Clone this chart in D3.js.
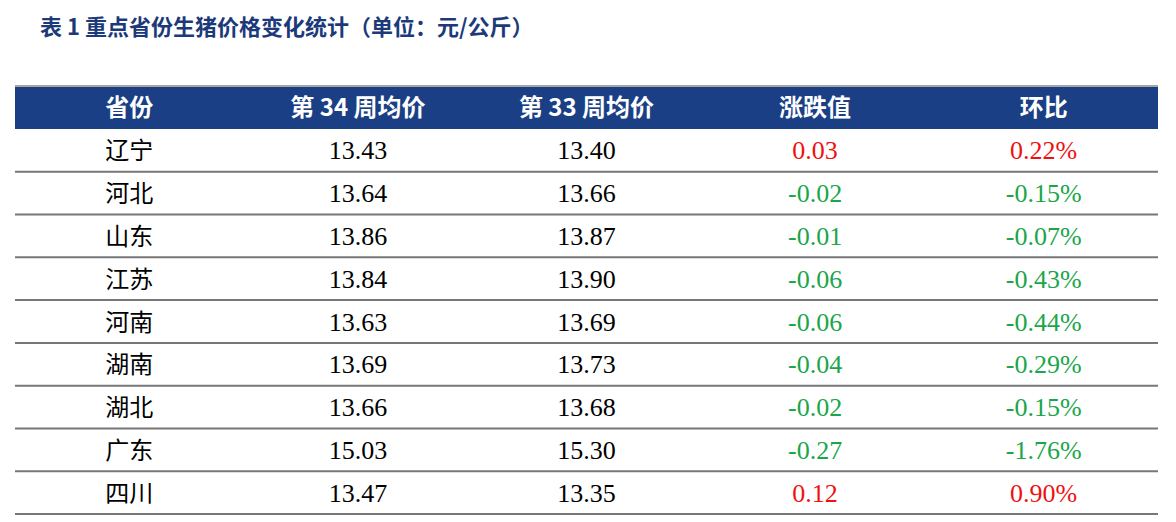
<!DOCTYPE html>
<html><head><meta charset="utf-8">
<script src="https://cdn.jsdelivr.net/npm/d3@7/dist/d3.min.js"></script>
<style>body{margin:0;background:#fff}</style>
</head><body>
<svg id="chart" width="1176" height="522"></svg>
<script>
const headers = ['省份', '第 34 周均价', '第 33 周均价', '涨跌值', '环比'];
const provinces = ['辽宁', '河北', '山东', '江苏', '河南', '湖南', '湖北', '广东', '四川'];
const week34 = ['13.43', '13.64', '13.86', '13.84', '13.63', '13.69', '13.66', '15.03', '13.47'];
const week33 = ['13.40', '13.66', '13.87', '13.90', '13.69', '13.73', '13.68', '15.30', '13.35'];
const change = ['0.03', '-0.02', '-0.01', '-0.06', '-0.06', '-0.04', '-0.02', '-0.27', '0.12'];
const ratio = ['0.22%', '-0.15%', '-0.07%', '-0.43%', '-0.44%', '-0.29%', '-0.15%', '-1.76%', '0.90%'];

const svg = d3.select('#chart');
const left = 15, right = 1158, headTop = 87, headBottom = 129, bottom = 514;
const cjk = '"Noto Sans CJK SC", sans-serif';
const serif = '"Liberation Serif", "Times New Roman", serif';

svg.append('text').attr('x', 40).attr('y', 35)
    .attr('font-family', cjk).attr('font-weight', 'bold').attr('font-size', 22)
    .attr('fill', '#1c3a7a').text('表 1  重点省份生猪价格变化统计（单位：元/公斤）');

const x = d3.scaleBand().domain(d3.range(headers.length)).range([left, right]);
const y = d3.scaleBand().domain(d3.range(provinces.length)).range([headBottom, bottom]);

svg.append('rect').attr('x', left).attr('y', headTop)
    .attr('width', right - left).attr('height', headBottom - headTop).attr('fill', '#1b3f85');
svg.append('line').attr('x1', left).attr('x2', right).attr('y1', headTop - 1).attr('y2', headTop - 1)
    .attr('stroke', '#888').attr('stroke-width', 1.5);

svg.selectAll('.head').data(headers).join('text')
    .attr('x', (d, i) => x(i) + x.bandwidth() / 2).attr('y', (headTop + headBottom) / 2 + 8)
    .attr('text-anchor', 'middle').attr('fill', '#fff').attr('font-weight', 'bold')
    .attr('font-size', 24).attr('font-family', cjk).text(d => d);

svg.selectAll('.sep').data(provinces).join('line')
    .attr('x1', left).attr('x2', right)
    .attr('y1', (d, i) => y(i) + y.bandwidth()).attr('y2', (d, i) => y(i) + y.bandwidth())
    .attr('stroke', '#777').attr('stroke-width', 2);

const color = v => v.startsWith('-') ? '#1aa64a' : '#ee1111';
const rows = provinces.map((p, i) => [
    {v: p, f: cjk, c: '#000', s: 24},
    {v: week34[i], f: serif, c: '#000', s: 26},
    {v: week33[i], f: serif, c: '#000', s: 26},
    {v: change[i], f: serif, c: color(change[i]), s: 26},
    {v: ratio[i], f: serif, c: color(ratio[i]), s: 26}
]);

const g = svg.selectAll('.row').data(rows).join('g')
    .attr('transform', (d, i) => `translate(0,${y(i) + y.bandwidth() / 2 + 9})`);
g.selectAll('text').data(d => d).join('text')
    .attr('x', (d, j) => x(j) + x.bandwidth() / 2)
    .attr('text-anchor', 'middle').attr('font-size', d => d.s)
    .attr('font-family', d => d.f).attr('fill', d => d.c).text(d => d.v);
</script>
</body></html>
